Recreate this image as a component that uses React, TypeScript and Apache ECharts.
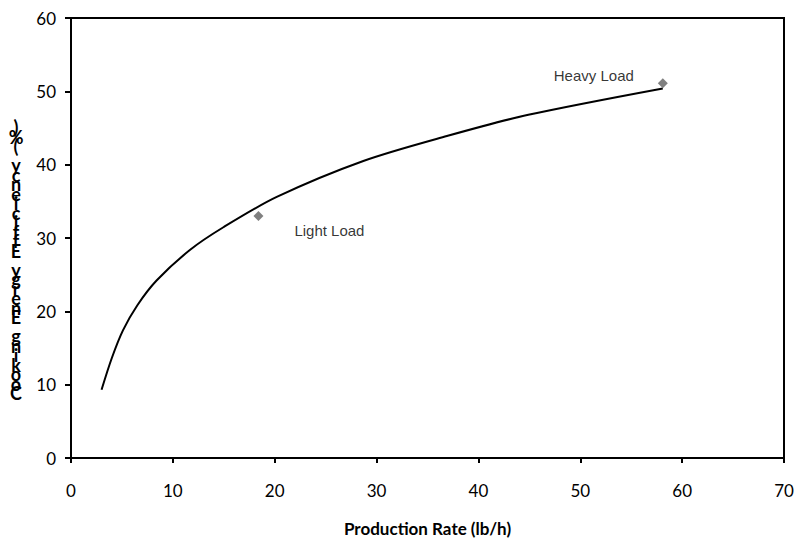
import React, { useEffect, useRef } from "react";
import * as echarts from "echarts";

const xTitle = "Production Rate (lb/h)";
const yTitle = "Cooking Energy Efficiency (%)";

const pointNames = ["Light Load", "Heavy Load"];
const pointX = [18.4, 58.1];
const pointY = [33.0, 51.1];

const curveX = [3.0, 4.0, 5.1, 6.5, 8.4, 11.7, 15.0, 20.2, 28.7, 36.9, 44.9, 58.1];
const curveY = [9.3, 13.6, 17.4, 20.8, 24.2, 28.4, 31.5, 35.6, 40.5, 43.9, 46.8, 50.4];

const labelOffsets: [number, number][] = [
  [71, 14],
  [-69, -8],
];

export default function App() {
  const ref = useRef<HTMLDivElement>(null);
  useEffect(() => {
    if (!ref.current) return;
    const chart = echarts.init(ref.current, null, { renderer: "svg" });
    const stacked = yTitle.split("").reverse().join("\n");
    chart.setOption({
      animation: false,
      backgroundColor: "#ffffff",
      grid: {
        left: 71,
        right: 13,
        top: 18,
        bottom: 72,
        show: true,
        borderColor: "#000",
        borderWidth: 2,
      },
      xAxis: {
        type: "value",
        min: 0,
        max: 70,
        interval: 10,
        name: xTitle,
        nameLocation: "middle",
        nameGap: 62,
        nameTextStyle: {
          fontFamily: "Lato",
          fontWeight: "bold",
          fontSize: 17,
          color: "#000",
        },
        axisLine: { lineStyle: { color: "#000", width: 2 } },
        axisTick: { show: true, length: 5, lineStyle: { color: "#000", width: 2 } },
        axisLabel: { fontFamily: "Lato", fontSize: 17, color: "#000", margin: 24 },
        splitLine: { show: false },
      },
      yAxis: {
        type: "value",
        min: 0,
        max: 60,
        interval: 10,
        axisLine: { lineStyle: { color: "#000", width: 2 } },
        axisTick: { show: true, length: 6, lineStyle: { color: "#000", width: 2 } },
        axisLabel: { fontFamily: "Lato", fontSize: 17, color: "#000", margin: 15 },
        splitLine: { show: false },
      },
      graphic: [
        {
          type: "text",
          x: 16,
          y: 260,
          style: {
            text: stacked,
            fontFamily: "Lato",
            fontWeight: "bold",
            fontSize: 18,
            lineHeight: 9.5,
            fill: "#000",
            align: "center",
            verticalAlign: "middle",
          },
        },
      ],
      series: [
        {
          type: "line",
          data: curveX.map((x, i) => [x, curveY[i]]),
          smooth: 0.3,
          showSymbol: false,
          lineStyle: { color: "#000", width: 2 },
          z: 2,
        },
        {
          type: "scatter",
          symbol: "diamond",
          symbolSize: 10,
          itemStyle: { color: "#606060" },
          data: pointX.map((x, i) => ({
            value: [x, pointY[i]],
            label: {
              show: true,
              formatter: pointNames[i],
              position: "inside",
              offset: labelOffsets[i],
              fontFamily: "Liberation Sans",
              fontSize: 15,
              color: "#000",
            },
          })),
          z: 3,
        },
      ],
    });
    return () => chart.dispose();
  }, []);
  return (
    <div
      ref={ref}
      style={{ position: "fixed", left: 0, top: 0, width: 797, height: 542 }}
    />
  );
}
